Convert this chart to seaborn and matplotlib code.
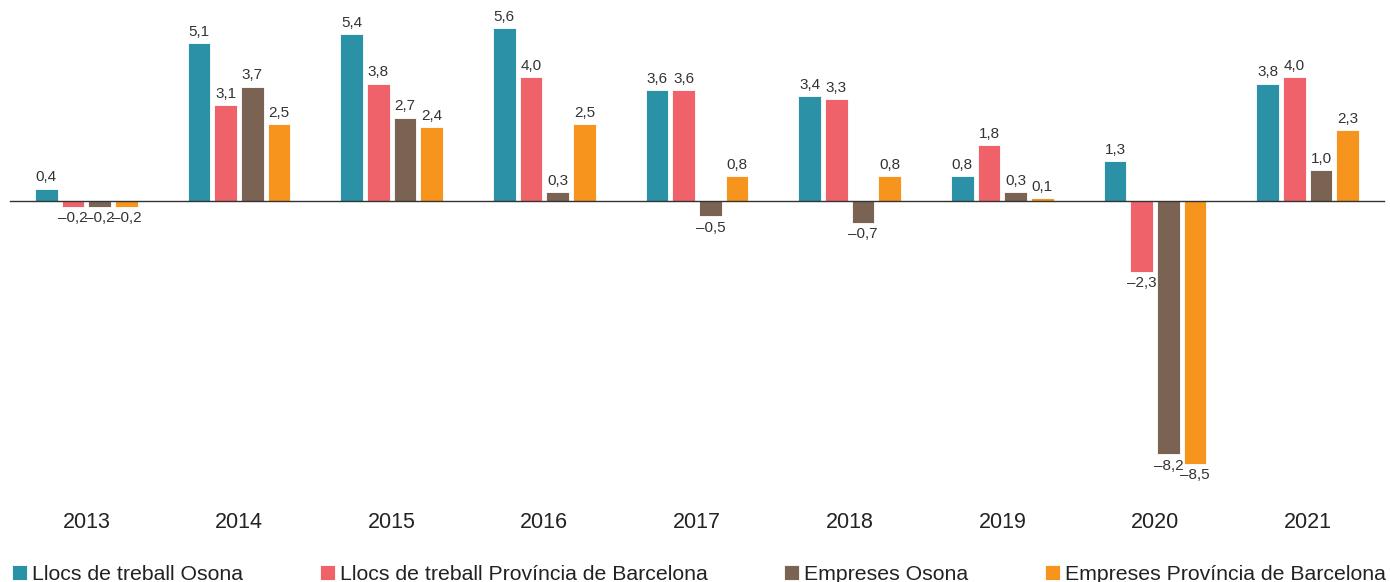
import matplotlib
matplotlib.use("Agg")
import matplotlib.pyplot as plt
import matplotlib.transforms as mtransforms
import numpy as np
import pandas as pd
import seaborn as sns

# %% data
years = ["2013", "2014", "2015", "2016", "2017", "2018", "2019", "2020", "2021"]
series = ["Llocs de treball Osona",
          "Llocs de treball Província de Barcelona",
          "Empreses Osona",
          "Empreses Província de Barcelona"]
llocs_osona = [0.4, 5.1, 5.4, 5.6, 3.6, 3.4, 0.8, 1.3, 3.8]
llocs_bcn = [-0.2, 3.1, 3.8, 4.0, 3.6, 3.3, 1.8, -2.3, 4.0]
empreses_osona = [-0.2, 3.7, 2.7, 0.3, -0.5, -0.7, 0.3, -8.2, 1.0]
empreses_bcn = [-0.2, 2.5, 2.4, 2.5, 0.8, 0.8, 0.1, -8.5, 2.3]
colors = ["#2a91a7", "#f0626a", "#7a6353", "#f7941d"]

df = pd.DataFrame({
    "year": years * 4,
    "serie": np.repeat(series, len(years)),
    "value": llocs_osona + llocs_bcn + empreses_osona + empreses_bcn,
})

# %% plot
sns.set_style("white")
plt.rcParams["font.family"] = ["Liberation Sans", "DejaVu Sans"]

fig = plt.figure(figsize=(13.9, 5.82), dpi=100)
ax = fig.add_axes([0.0072, 0.1873, 0.9885, 0.7966])

sns.barplot(data=df, x="year", y="value", hue="serie", hue_order=series,
            palette=colors, saturation=1, width=0.7, gap=0.15, errorbar=None,
            edgecolor="white", linewidth=0.6, legend=False, ax=ax)

for cont in ax.containers:
    labs = ["{:.1f}".format(b.get_height()).replace(".", ",").replace("-", "\u2013")
            for b in cont]
    ax.bar_label(cont, labels=labs, padding=3, fontsize=11, color="#333333")

ax.set_xlim(-0.5, len(years) - 0.5)
ax.set_ylim(-8.8, 6.2)
for s in ["top", "right", "left"]:
    ax.spines[s].set_visible(False)
ax.spines["bottom"].set_position(("data", 0))
ax.spines["bottom"].set_color("#333333")
ax.spines["bottom"].set_linewidth(1)
ax.set_xticks(np.arange(len(years) + 1) - 0.5)
ax.set_xticklabels([])
ax.tick_params(axis="x", length=4, width=1, color="#333333", direction="out")
ax.set_yticks([])
ax.set_xlabel("")
ax.set_ylabel("")

# year labels below the plot
trans = mtransforms.blended_transform_factory(ax.transData, fig.transFigure)
for i, y in enumerate(years):
    ax.text(i, 1 - 523 / 582, y, transform=trans, ha="center", va="center",
            fontsize=15.5, color="#222222")

fig.legend(ax.containers, series, loc="lower left", ncol=4,
           bbox_to_anchor=(0.0086, -0.003), bbox_transform=fig.transFigure,
           frameon=False, fontsize=15.3, borderpad=0, borderaxespad=0,
           handlelength=0.7, handleheight=0.7, handletextpad=0.25,
           columnspacing=3.6, labelcolor="#222222")

fig.savefig("out.png", dpi=100)
